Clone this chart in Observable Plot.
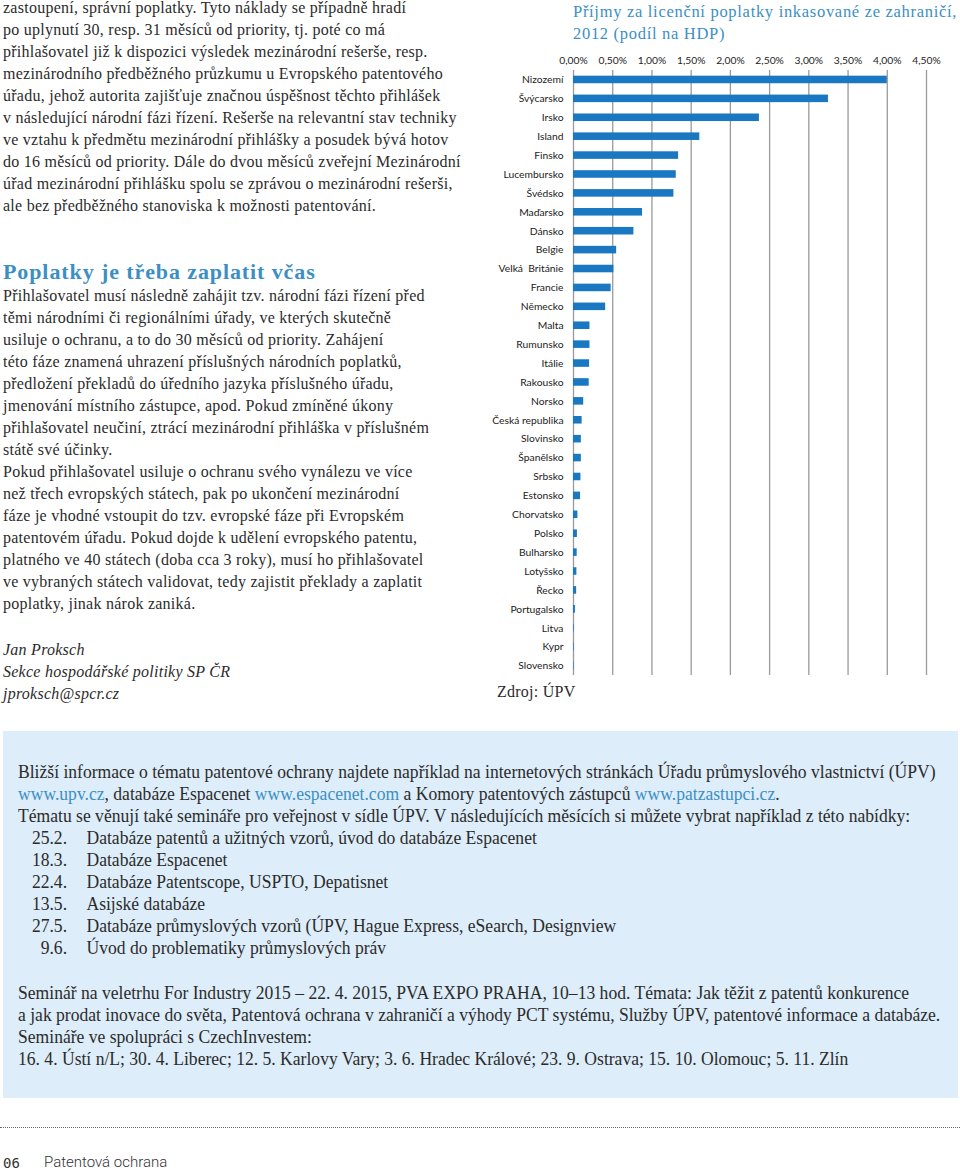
<!DOCTYPE html>
<html lang="cs">
<head>
<meta charset="utf-8">
<script src="https://cdn.jsdelivr.net/npm/d3@7"></script>
<script src="https://cdn.jsdelivr.net/npm/@observablehq/plot@0.6"></script>
<style>
  html, body { margin: 0; padding: 0; background: #fff; }
  #page { position: relative; width: 960px; height: 1170px; overflow: hidden; font-family: "Liberation Serif", serif; color: #2b2b2b; }
  .abs { position: absolute; }
  .lines div { white-space: nowrap; }
  .body { font-size: 16px; line-height: 22px; letter-spacing: 0.25px; }
  .blue { color: #3b8fc4; }
  #box { position: absolute; left: 3px; top: 731px; width: 955px; height: 367px; background: #ddedf9; }
  .boxtxt { font-size: 19px; line-height: 22px; color: #2b2b2b; transform: scaleX(0.925); transform-origin: 0 0; }
  .boxtxt a { color: #3b8fc4; text-decoration: none; }
  .item { position: relative; height: 22px; }
  .item .n { position: absolute; left: 0; width: 53px; text-align: right; }
  .item .t { position: absolute; left: 74px; }
</style>
</head>
<body>
<div id="page">
  <!-- left column -->
  <div class="abs lines body" style="left:3px; top:-3px;">
    <div>zastoupení, správní poplatky. Tyto náklady se případně hradí</div>
    <div>po uplynutí 30, resp. 31 měsíců od priority, tj. poté co má</div>
    <div>přihlašovatel již k dispozici výsledek mezinárodní rešerše, resp.</div>
    <div>mezinárodního předběžného průzkumu u Evropského patentového</div>
    <div>úřadu, jehož autorita zajišťuje značnou úspěšnost těchto přihlášek</div>
    <div>v následující národní fázi řízení. Rešerše na relevantní stav techniky</div>
    <div>ve vztahu k předmětu mezinárodní přihlášky a posudek bývá hotov</div>
    <div>do 16 měsíců od priority. Dále do dvou měsíců zveřejní Mezinárodní</div>
    <div>úřad mezinárodní přihlášku spolu se zprávou o mezinárodní rešerši,</div>
    <div>ale bez předběžného stanoviska k možnosti patentování.</div>
  </div>
  <div class="abs blue" style="left:3px; top:258px; font-size:22px; font-weight:bold; letter-spacing:0.9px; line-height:28px; white-space:nowrap;">Poplatky je třeba zaplatit včas</div>
  <div class="abs lines body" style="left:3px; top:285px;">
    <div>Přihlašovatel musí následně zahájit tzv. národní fázi řízení před</div>
    <div>těmi národními či regionálními úřady, ve kterých skutečně</div>
    <div>usiluje o ochranu, a to do 30 měsíců od priority. Zahájení</div>
    <div>této fáze znamená uhrazení příslušných národních poplatků,</div>
    <div>předložení překladů do úředního jazyka příslušného úřadu,</div>
    <div>jmenování místního zástupce, apod. Pokud zmíněné úkony</div>
    <div>přihlašovatel neučiní, ztrácí mezinárodní přihláška v příslušném</div>
    <div>státě své účinky.</div>
    <div>Pokud přihlašovatel usiluje o ochranu svého vynálezu ve více</div>
    <div>než třech evropských státech, pak po ukončení mezinárodní</div>
    <div>fáze je vhodné vstoupit do tzv. evropské fáze při Evropském</div>
    <div>patentovém úřadu. Pokud dojde k udělení evropského patentu,</div>
    <div>platného ve 40 státech (doba cca 3 roky), musí ho přihlašovatel</div>
    <div>ve vybraných státech validovat, tedy zajistit překlady a zaplatit</div>
    <div>poplatky, jinak nárok zaniká.</div>
  </div>
  <div class="abs lines body" style="left:3px; top:639px; font-style:italic;">
    <div>Jan Proksch</div>
    <div>Sekce hospodářské politiky SP ČR</div>
    <div>jproksch@spcr.cz</div>
  </div>

  <!-- chart -->
  <div class="abs lines blue" style="left:573px; top:1px; font-size:16.5px; letter-spacing:0.7px; line-height:22px;">
    <div>Příjmy za licenční poplatky inkasované ze zahraničí,</div>
    <div>2012 (podíl na HDP)</div>
  </div>
  <div id="chart" class="abs" style="left:490px; top:45px;"></div>
  <div class="abs" style="left:497px; top:681px; font-size:16px; letter-spacing:0.25px; line-height:22px; white-space:nowrap;">Zdroj: ÚPV</div>

  <!-- info box -->
  <div id="box"></div>
  <div class="abs lines boxtxt" style="left:18px; top:761px; width:1000px;">
    <div>Bližší informace o tématu patentové ochrany najdete například na internetových stránkách Úřadu průmyslového vlastnictví (ÚPV)</div>
    <div><a>www.upv.cz</a>, databáze Espacenet <a>www.espacenet.com</a> a Komory patentových zástupců <a>www.patzastupci.cz</a>.</div>
    <div>Tématu se věnují také semináře pro veřejnost v sídle ÚPV. V následujících měsících si můžete vybrat například z této nabídky:</div>
    <div class="item"><span class="n">25.2.</span><span class="t">Databáze patentů a užitných vzorů, úvod do databáze Espacenet</span></div>
    <div class="item"><span class="n">18.3.</span><span class="t">Databáze Espacenet</span></div>
    <div class="item"><span class="n">22.4.</span><span class="t">Databáze Patentscope, USPTO, Depatisnet</span></div>
    <div class="item"><span class="n">13.5.</span><span class="t">Asijské databáze</span></div>
    <div class="item"><span class="n">27.5.</span><span class="t">Databáze průmyslových vzorů (ÚPV, Hague Express, eSearch, Designview</span></div>
    <div class="item"><span class="n">9.6.</span><span class="t">Úvod do problematiky průmyslových práv</span></div>
  </div>
  <div class="abs lines boxtxt" style="left:18px; top:982px; width:1000px;">
    <div>Seminář na veletrhu For Industry 2015 – 22. 4. 2015, PVA EXPO PRAHA, 10–13 hod. Témata: Jak těžit z patentů konkurence</div>
    <div>a jak prodat inovace do světa, Patentová ochrana v zahraničí a výhody PCT systému, Služby ÚPV, patentové informace a databáze.</div>
    <div>Semináře ve spolupráci s CzechInvestem:</div>
    <div>16. 4. Ústí n/L; 30. 4. Liberec; 12. 5. Karlovy Vary; 3. 6. Hradec Králové; 23. 9. Ostrava; 15. 10. Olomouc; 5. 11. Zlín</div>
  </div>

  <!-- footer -->
  <div class="abs" style="left:0; top:1127px; width:960px; border-top:1.5px dotted #666;"></div>
  <div class="abs" style="left:3px; top:1155px; font-family:'DejaVu Sans Mono', monospace; font-size:14px; line-height:16px; color:#333;">06</div>
  <div class="abs" style="left:44px; top:1154px; font-family:Roboto, sans-serif; font-weight:300; font-size:15px; line-height:16px; color:#333;">Patentová ochrana</div>
</div>

<script>
const countries = ["Nizozemí","Švýcarsko","Irsko","Island","Finsko","Lucembursko","Švédsko","Maďarsko","Dánsko","Belgie","Velká  Británie","Francie","Německo","Malta","Rumunsko","Itálie","Rakousko","Norsko","Česká republika","Slovinsko","Španělsko","Srbsko","Estonsko","Chorvatsko","Polsko","Bulharsko","Lotyšsko","Řecko","Portugalsko","Litva","Kypr","Slovensko"];
const values = [4.00,3.25,2.37,1.61,1.34,1.31,1.28,0.88,0.77,0.55,0.515,0.48,0.41,0.21,0.21,0.205,0.20,0.13,0.11,0.10,0.10,0.095,0.09,0.056,0.05,0.047,0.043,0.04,0.025,0.008,0.007,0.006];
const tickValues = [0,0.5,1,1.5,2,2.5,3,3.5,4,4.5];
const tickLabels = ["0,00%","0,50%","1,00%","1,50%","2,00%","2,50%","3,00%","3,50%","4,00%","4,50%"];

const data = countries.map((c, i) => ({country: c, value: values[i]}));

const chart = Plot.plot({
  width: 470,
  height: 635,
  marginLeft: 83,
  marginRight: 34,
  marginTop: 25,
  marginBottom: 5,
  style: {fontFamily: "Lato, sans-serif", fontSize: "10.3px", color: "#222", background: "transparent"},
  x: {domain: [0, 4.5], axis: "top", ticks: tickValues, tickFormat: d => tickLabels[tickValues.indexOf(d)], tickSize: 0, tickPadding: 7, label: null},
  y: {domain: countries, paddingInner: 0.6, paddingOuter: 0.3, round: false, tickSize: 0, tickPadding: 10, label: null},
  marks: [
    Plot.ruleX(tickValues, {stroke: "#9a9a9a", strokeWidth: 1.3}),
    Plot.barX(data, {x: "value", y: "country", fill: "#1a78c2"})
  ]
});
document.getElementById("chart").appendChild(chart);
</script>
</body>
</html>
